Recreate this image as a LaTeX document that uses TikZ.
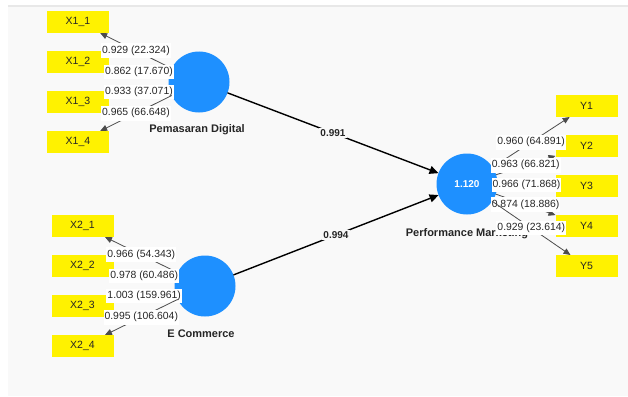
\documentclass[tikz,border=0pt]{standalone}
\usepackage{fontspec}
\setmainfont{Liberation Sans}
\usetikzlibrary{arrows.meta}
\definecolor{lvblue}{RGB}{30,144,255}
\definecolor{panelgray}{RGB}{249,249,249}
\definecolor{rimgray}{RGB}{232,232,232}
\begin{document}
\begin{tikzpicture}[x=1pt, y=-1pt,
            latent/.style={circle, fill=lvblue, minimum size=61pt, inner sep=0pt, outer sep=0pt, text=white, font=\fontsize{10}{12}\selectfont\bfseries},
            indicator/.style={rectangle, fill=yellow, minimum width=62pt, minimum height=22pt, inner sep=0pt, outer sep=0pt, text=black!85, font=\fontsize{10.5}{12}\selectfont},
            lvname/.style={text=black!85, font=\fontsize{11}{13}\selectfont\bfseries},
            loading/.style={draw=black!70, line width=0.8pt, -{Triangle[length=7pt,width=6pt]}},
            pathline/.style={draw=black, line width=1.4pt, -{Triangle[length=9pt,width=8pt]}},
            weight/.style={fill=white, inner xsep=1pt, inner ysep=2.5pt, text=black!85, font=\fontsize{10.4}{12}\selectfont},
            coef/.style={fill=panelgray, inner sep=1pt, text=black!85, font=\fontsize{10}{12}\selectfont\bfseries},
        ]
    \useasboundingbox[fill=white] (0,0) rectangle (628,396);
    \fill[panelgray] (8,6) rectangle (628,396);
    \draw[rimgray, line width=2pt] (8,6) -- (628,6);

    \node[latent](pd) at (199,82) {};
    \node[latent](ec) at (205,286) {};
    \node[latent](pm) at (467,184) {1.120};
    \node[lvname](pdname) at (197,130) {Pemasaran Digital};
    \node[lvname](ecname) at (201,334) {E Commerce};
    \node[lvname](pmname) at (467,234) {Performance Marketing};

    \node[indicator](x11) at (78,22) {X1\_1};
    \node[indicator](x12) at (78,62) {X1\_2};
    \node[indicator](x13) at (78,102) {X1\_3};
    \node[indicator](x14) at (78,142) {X1\_4};
    \node[indicator](x21) at (82.5,226) {X2\_1};
    \node[indicator](x22) at (82.5,266) {X2\_2};
    \node[indicator](x23) at (82.5,306) {X2\_3};
    \node[indicator](x24) at (82.5,346) {X2\_4};
    \node[indicator](y1) at (586.5,106) {Y1};
    \node[indicator](y2) at (586.5,146) {Y2};
    \node[indicator](y3) at (586.5,186) {Y3};
    \node[indicator](y4) at (586.5,226) {Y4};
    \node[indicator](y5) at (586.5,266) {Y5};

    \draw[pathline] (pd) -- node[coef]{0.991} (pm);
    \draw[pathline] (ec) -- node[coef]{0.994} (pm);

    \draw[loading] (pd) -- node[weight]{0.929 (22.324)} (x11);
    \draw[loading] (pd) -- node[weight]{0.862 (17.670)} (x12);
    \draw[loading] (pd) -- node[weight]{0.933 (37.071)} (x13);
    \draw[loading] (pd) -- node[weight]{0.965 (66.648)} (x14);
    \draw[loading] (ec) -- node[weight]{0.966 (54.343)} (x21);
    \draw[loading] (ec) -- node[weight]{0.978 (60.486)} (x22);
    \draw[loading] (ec) -- node[weight]{1.003 (159.961)} (x23);
    \draw[loading] (ec) -- node[weight]{0.995 (106.604)} (x24);
    \draw[loading] (pm) -- node[weight]{0.960 (64.891)} (y1);
    \draw[loading] (pm) -- node[weight]{0.963 (66.821)} (y2);
    \draw[loading] (pm) -- node[weight]{0.966 (71.868)} (y3);
    \draw[loading] (pm) -- node[weight]{0.874 (18.886)} (y4);
    \draw[loading] (pm) -- node[weight]{0.929 (23.614)} (y5);
\end{tikzpicture}
\end{document}
